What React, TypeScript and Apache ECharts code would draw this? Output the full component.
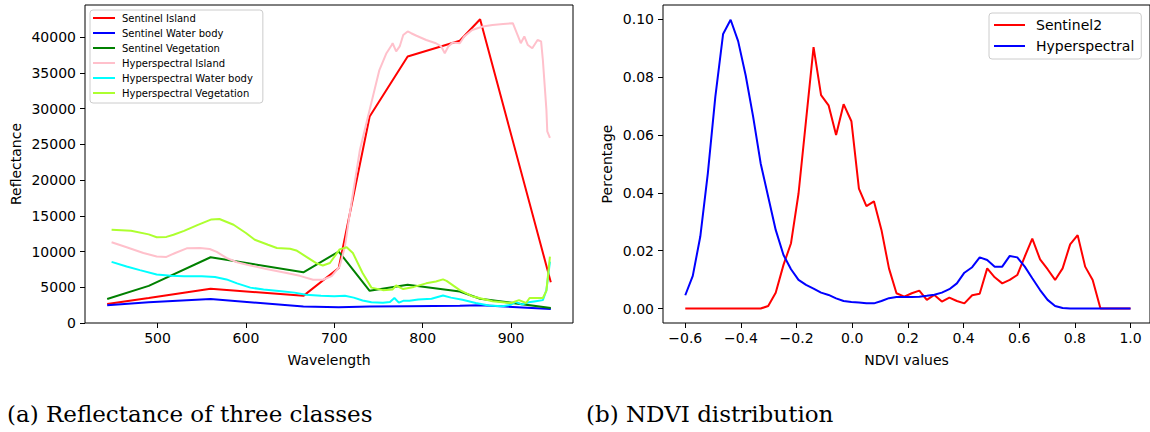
import React, { useEffect, useRef } from "react";
import * as echarts from "echarts";

// ---------- Left chart: reflectance ----------
const wlTicks = [500, 600, 700, 800, 900];
const reflTicks = [0, 5000, 10000, 15000, 20000, 25000, 30000, 35000, 40000];

const s2Bands = [443, 490, 560, 665, 705, 740, 783, 842, 865, 945];
const sentinelIsland = [2650, 3500, 4800, 3800, 7700, 28900, 37300, 39500, 42500, 5700];
const sentinelWater = [2500, 2900, 3350, 2300, 2200, 2300, 2350, 2400, 2500, 1950];
const sentinelVeg = [3350, 5200, 9200, 7100, 10000, 4500, 5350, 4400, 3400, 2100];

const hyperIslandWl = [448, 465, 484, 499, 510, 520, 533, 548, 559, 567, 578, 590, 605, 623, 646, 661, 676, 687, 697, 706, 712, 717, 729, 740, 751, 759, 765, 766, 770, 774, 778, 783, 787, 793, 804, 815, 821, 825, 829, 834, 842, 847, 856, 868, 879, 891, 902, 908, 911, 915, 919, 924, 930, 934, 936, 940, 941, 944];
const hyperIsland = [11300, 10600, 9800, 9300, 9250, 9800, 10450, 10500, 10350, 9950, 9100, 8500, 8050, 7550, 7000, 6600, 6050, 6050, 6550, 7900, 10700, 14900, 24250, 29850, 35400, 37750, 38900, 39150, 38000, 38700, 40300, 40800, 40550, 40200, 39600, 39150, 38700, 37750, 38700, 39250, 39150, 40100, 41000, 41500, 41700, 41850, 41950, 40100, 39150, 40100, 38900, 38450, 39600, 39400, 36800, 29850, 26800, 25900];

const hyperWaterWl = [448, 465, 480, 499, 515, 530, 550, 565, 578, 590, 605, 620, 640, 655, 668, 685, 700, 712, 722, 732, 742, 755, 763, 768, 773, 778, 785, 795, 810, 823, 832, 845, 860, 875, 890, 900, 905, 912, 920, 928, 936, 940, 944];
const hyperWater = [8550, 7900, 7400, 6800, 6600, 6550, 6550, 6450, 6100, 5550, 4950, 4700, 4450, 4250, 3950, 3800, 3750, 3800, 3550, 3150, 2900, 2850, 2950, 3500, 2850, 3100, 3100, 3300, 3400, 3850, 3550, 3250, 2800, 2450, 2350, 2550, 2950, 2600, 2900, 3050, 3200, 4600, 8600];

const hyperVegWl = [448, 470, 490, 499, 510, 518, 530, 545, 561, 570, 586, 600, 610, 625, 635, 650, 657, 668, 680, 687, 695, 706, 714, 721, 732, 742, 755, 766, 770, 778, 790, 804, 815, 823, 827, 842, 857, 879, 900, 909, 917, 921, 936, 940, 944];
const hyperVeg = [13050, 12900, 12400, 12000, 12050, 12350, 12900, 13700, 14500, 14550, 13750, 12600, 11650, 10950, 10500, 10400, 10150, 9300, 8350, 8050, 8400, 10300, 10600, 9800, 7000, 4950, 4600, 4700, 5250, 4750, 5050, 5550, 5800, 6100, 5900, 4600, 3700, 3050, 2800, 3200, 2800, 3500, 3500, 4500, 9300];

// ---------- Right chart: NDVI distribution ----------
const ndviTicks = [-0.6, -0.4, -0.2, 0.0, 0.2, 0.4, 0.6, 0.8, 1.0];
const pctTicks = [0, 0.02, 0.04, 0.06, 0.08, 0.1];
const ndviBins = [-0.6, -0.573, -0.546, -0.519, -0.492, -0.464, -0.437, -0.41, -0.383, -0.356, -0.329, -0.302, -0.275, -0.247, -0.22, -0.193, -0.166, -0.139, -0.112, -0.085, -0.058, -0.031, -0.003, 0.024, 0.051, 0.078, 0.105, 0.132, 0.159, 0.187, 0.214, 0.241, 0.268, 0.295, 0.322, 0.349, 0.376, 0.403, 0.431, 0.458, 0.485, 0.512, 0.539, 0.566, 0.593, 0.62, 0.647, 0.675, 0.702, 0.729, 0.756, 0.783, 0.81, 0.837, 0.864, 0.892, 0.919, 0.946, 0.973, 1.0];
const sentinel2Ndvi = [0, 0, 0, 0, 0, 0, 0, 0, 0, 0, 0, 0.0009, 0.0055, 0.0151, 0.0226, 0.0398, 0.0651, 0.0904, 0.0738, 0.0703, 0.06, 0.0707, 0.0648, 0.0415, 0.0354, 0.0371, 0.0272, 0.0139, 0.0053, 0.0041, 0.0053, 0.0062, 0.003, 0.0047, 0.0024, 0.0038, 0.0026, 0.0018, 0.0046, 0.0051, 0.0139, 0.0108, 0.0087, 0.0099, 0.0116, 0.018, 0.0242, 0.017, 0.0136, 0.0099, 0.0139, 0.0222, 0.0254, 0.0145, 0.0099, 0, 0, 0, 0, 0];
const hyperNdvi = [0.0046, 0.0113, 0.0249, 0.0467, 0.0732, 0.095, 0.0999, 0.0925, 0.0807, 0.0663, 0.0502, 0.0387, 0.0272, 0.0185, 0.0136, 0.0099, 0.0082, 0.0069, 0.0055, 0.0047, 0.0035, 0.0026, 0.0023, 0.0021, 0.0018, 0.0018, 0.0026, 0.0036, 0.004, 0.004, 0.004, 0.0041, 0.0044, 0.0048, 0.0055, 0.0067, 0.0087, 0.0124, 0.0143, 0.0177, 0.0168, 0.0145, 0.0145, 0.0182, 0.0177, 0.0145, 0.0105, 0.0064, 0.003, 0.0009, 0.0002, 0, 0, 0, 0, 0, 0, 0, 0, 0];

const captionA = "(a) Reflectance of three classes";
const captionB = "(b) NDVI distribution";

const FONT = "DejaVu Sans";
const zip = (xs: number[], ys: number[]) => xs.map((x, i) => [x, ys[i]]);
const minus = (s: string) => s.replace("-", "\u2212");

export default function App() {
  const ref = useRef<HTMLDivElement>(null);
  useEffect(() => {
    if (!ref.current) return;
    const chart = echarts.init(ref.current, undefined, { renderer: "svg" });
    const tickStyle = { color: "#000", fontFamily: FONT, fontSize: 14 };
    const axisCommon = {
      axisLine: { show: false, onZero: false },
      splitLine: { show: false },
      axisTick: { show: true, inside: false, length: 5, lineStyle: { color: "#000", width: 1 } },
    };
    const nameStyle = { color: "#000", fontFamily: FONT, fontSize: 14 };
    const line = (name: string, color: string, data: number[][], xi: number) => ({
      name,
      type: "line",
      xAxisIndex: xi,
      yAxisIndex: xi,
      data,
      symbol: "none",
      showSymbol: false,
      lineStyle: { color, width: 2 },
      itemStyle: { color },
      silent: true,
    });
    chart.setOption({
      animation: false,
      backgroundColor: "#fff",
      grid: [
        { left: 85, top: 5, width: 488, height: 318, show: true, borderColor: "#000", borderWidth: 1, backgroundColor: "transparent" },
        { left: 663, top: 5, width: 487, height: 318, show: true, borderColor: "#000", borderWidth: 1, backgroundColor: "transparent" },
      ],
      xAxis: [
        {
          ...axisCommon,
          type: "value",
          gridIndex: 0,
          min: 417.9,
          max: 970.1,
          axisTick: { ...axisCommon.axisTick, customValues: wlTicks },
          axisLabel: { ...tickStyle, margin: 8, customValues: wlTicks, formatter: (v: number) => String(v) },
          name: "Wavelength",
          nameLocation: "middle",
          nameGap: 30,
          nameTextStyle: nameStyle,
        },
        {
          ...axisCommon,
          type: "value",
          gridIndex: 1,
          min: -0.68,
          max: 1.07,
          axisTick: { ...axisCommon.axisTick, customValues: ndviTicks },
          axisLabel: { ...tickStyle, margin: 8, customValues: ndviTicks, formatter: (v: number) => minus(v.toFixed(1)) },
          name: "NDVI values",
          nameLocation: "middle",
          nameGap: 30,
          nameTextStyle: nameStyle,
        },
      ],
      yAxis: [
        {
          ...axisCommon,
          type: "value",
          gridIndex: 0,
          min: 0,
          max: 44500,
          axisTick: { ...axisCommon.axisTick, customValues: reflTicks },
          axisLabel: { ...tickStyle, margin: 9, customValues: reflTicks, formatter: (v: number) => String(v) },
          name: "Reflectance",
          nameLocation: "middle",
          nameGap: 62,
          nameTextStyle: nameStyle,
        },
        {
          ...axisCommon,
          type: "value",
          gridIndex: 1,
          min: -0.005,
          max: 0.105,
          axisTick: { ...axisCommon.axisTick, customValues: pctTicks },
          axisLabel: { ...tickStyle, margin: 9, customValues: pctTicks, formatter: (v: number) => v.toFixed(2) },
          name: "Percentage",
          nameLocation: "middle",
          nameGap: 49,
          nameTextStyle: nameStyle,
        },
      ],
      legend: [
        {
          left: 90,
          top: 10,
          orient: "vertical",
          data: ["Sentinel Island", "Sentinel Water body", "Sentinel Vegetation", "Hyperspectral Island", "Hyperspectral Water body", "Hyperspectral Vegetation"],
          icon: "rect",
          itemWidth: 22,
          itemHeight: 2,
          itemGap: 3,
          padding: [2, 10, 4, 3],
          borderColor: "#cccccc",
          borderWidth: 1,
          borderRadius: 3,
          backgroundColor: "rgba(255,255,255,0.8)",
          textStyle: { color: "#000", fontFamily: FONT, fontSize: 10, lineHeight: 12, padding: [0, 0, 0, 2] },
          selectedMode: false,
        },
        {
          left: 989,
          top: 13,
          orient: "vertical",
          data: ["Sentinel2", "Hyperspectral"],
          icon: "rect",
          itemWidth: 31,
          itemHeight: 2,
          itemGap: 5,
          padding: [4, 7, 5, 5],
          borderColor: "#cccccc",
          borderWidth: 1,
          borderRadius: 3,
          backgroundColor: "rgba(255,255,255,0.8)",
          textStyle: { color: "#000", fontFamily: FONT, fontSize: 14, lineHeight: 16, padding: [0, 0, 0, 6] },
          selectedMode: false,
        },
      ],
      graphic: [
        { type: "text", x: 7, y: 414, style: { text: captionA, font: "23px 'DejaVu Serif'", fill: "#000", verticalAlign: "middle", align: "left" } },
        { type: "text", x: 586, y: 414, style: { text: captionB, font: "23px 'DejaVu Serif'", fill: "#000", verticalAlign: "middle", align: "left" } },
      ],
      series: [
        line("Sentinel Island", "#ff0000", zip(s2Bands, sentinelIsland), 0),
        line("Sentinel Water body", "#0000ff", zip(s2Bands, sentinelWater), 0),
        line("Sentinel Vegetation", "#008000", zip(s2Bands, sentinelVeg), 0),
        line("Hyperspectral Island", "#ffc0cb", zip(hyperIslandWl, hyperIsland), 0),
        line("Hyperspectral Water body", "#00ffff", zip(hyperWaterWl, hyperWater), 0),
        line("Hyperspectral Vegetation", "#adff2f", zip(hyperVegWl, hyperVeg), 0),
        line("Sentinel2", "#ff0000", zip(ndviBins, sentinel2Ndvi), 1),
        line("Hyperspectral", "#0000ff", zip(ndviBins, hyperNdvi), 1),
      ],
    });
    return () => chart.dispose();
  }, []);
  return (
    <div style={{ position: "fixed", left: 0, top: 0, width: 1150, height: 432, background: "#fff" }}>
      <div ref={ref} style={{ width: 1150, height: 432 }} />
    </div>
  );
}
